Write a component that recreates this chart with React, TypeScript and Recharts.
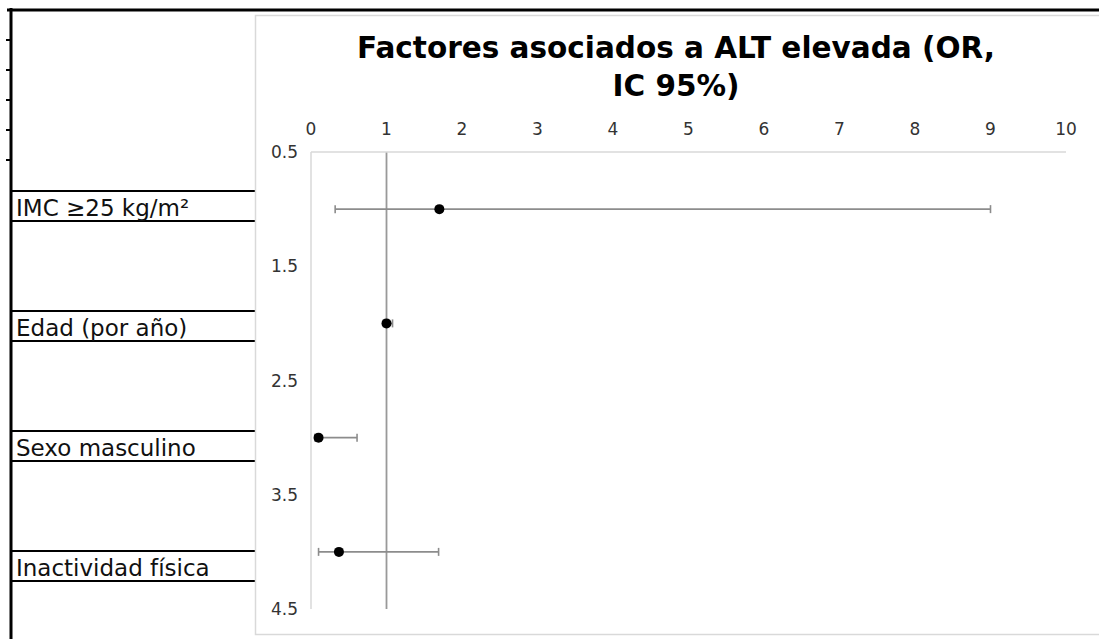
import React from 'react';
import { ScatterChart, Scatter, XAxis, YAxis, ErrorBar, ReferenceLine } from 'recharts';

const categories = ['IMC ≥25 kg/m²', 'Edad (por año)', 'Sexo masculino', 'Inactividad física'];
const rowPositions = [1, 2, 3, 4];
const oddsRatios = [1.7, 1.0, 0.1, 0.37];
const ciLower = [0.32, 0.96, 0.05, 0.1];
const ciUpper = [9.0, 1.08, 0.61, 1.69];
const xTicks = [0, 1, 2, 3, 4, 5, 6, 7, 8, 9, 10];
const yTicks = [0.5, 1.5, 2.5, 3.5, 4.5];
const titleLines = ['Factores asociados a ALT elevada (OR,', 'IC 95%)'];
const sheetTickRows = [40, 70, 100, 130, 160];

const data = categories.map((name, i) => ({
  name,
  y: rowPositions[i],
  or: oddsRatios[i],
  err: [oddsRatios[i] - ciLower[i], ciUpper[i] - oddsRatios[i]],
}));

const W = 1099;
const H = 639;
const FONT = '"DejaVu Sans", Verdana, sans-serif';

const Dot = (props: any) => {
  const { cx, cy } = props;
  if (cx == null || cy == null) return null;
  return <circle cx={cx} cy={cy} r={5} fill="#000" />;
};

export default function App() {
  const rowTop0 = 191;
  const rowStep = 120;
  const rowH = 30;
  return (
    <div style={{ position: 'absolute', left: 0, top: 0, width: W, height: H, overflow: 'hidden', background: '#fff' }}>
      <svg width={W} height={H} style={{ position: 'absolute', left: 0, top: 0 }}>
        {/* spreadsheet border */}
        <line x1={7} y1={10} x2={W} y2={10} stroke="#000" strokeWidth={3} />
        <line x1={11} y1={8} x2={11} y2={H} stroke="#000" strokeWidth={3} />
        {sheetTickRows.map((ty) => (
          <line key={ty} x1={6} y1={ty} x2={11} y2={ty} stroke="#000" strokeWidth={2} />
        ))}
        {/* label table */}
        {categories.map((c, i) => {
          const top = rowTop0 + i * rowStep;
          return (
            <g key={c}>
              <line x1={11} y1={top} x2={255} y2={top} stroke="#000" strokeWidth={2} />
              <line x1={11} y1={top + rowH} x2={255} y2={top + rowH} stroke="#000" strokeWidth={2} />
              <text x={16} y={top + 25} fontFamily={FONT} fontSize={23} fill="#111">{c}</text>
            </g>
          );
        })}
        {/* chart box */}
        <rect x={255.5} y={15.5} width={W} height={619} fill="none" stroke="#d9d9d9" strokeWidth={1.5} />
        {/* title */}
        {titleLines.map((t, i) => (
          <text key={t} x={676} y={58 + i * 38} textAnchor="middle" fontFamily={FONT} fontWeight="bold" fontSize={29.5} fill="#000">{t}</text>
        ))}
      </svg>
      <div style={{ position: 'absolute', left: 0, top: 0 }}>
        <ScatterChart width={W} height={H} margin={{ top: 100, right: 33, bottom: 30, left: 0 }}>
          <XAxis
            xAxisId={0}
            dataKey="or"
            type="number"
            orientation="top"
            domain={[0, 10]}
            ticks={xTicks}
            height={52}
            tickLine={false}
            tickSize={0}
            tickMargin={17}
            axisLine={{ stroke: '#d9d9d9', strokeWidth: 1.5 }}
            tick={{ fill: '#333', fontSize: 17, fontFamily: FONT }}
            interval={0}
          />
          <YAxis
            yAxisId={0}
            dataKey="y"
            type="number"
            domain={[0.5, 4.5]}
            reversed
            ticks={yTicks}
            width={311}
            tickLine={false}
            tickSize={0}
            tickMargin={13}
            axisLine={{ stroke: '#d9d9d9', strokeWidth: 1.5 }}
            tick={{ fill: '#333', fontSize: 17, fontFamily: FONT }}
            interval={0}
          />
          <ReferenceLine x={1} stroke="#999" strokeWidth={1.8} />
          <Scatter data={data} shape={<Dot />} isAnimationActive={false}>
            <ErrorBar dataKey="err" direction="x" width={4} stroke="#8c8c8c" strokeWidth={1.6} />
          </Scatter>
        </ScatterChart>
      </div>
    </div>
  );
}
